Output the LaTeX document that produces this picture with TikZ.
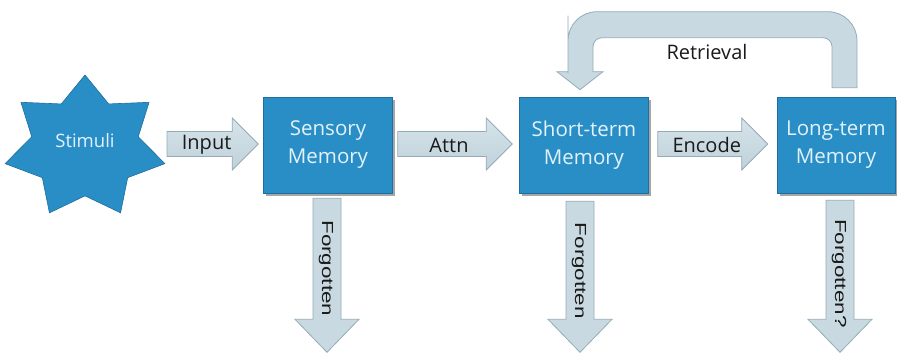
\documentclass[tikz,border=0pt]{standalone}
\usepackage{fontspec}
\setmainfont{Open Sans}
\newfontfamily\vfont{Liberation Sans}
\usetikzlibrary{shapes.geometric,shadows,calc}
\definecolor{boxblue}{HTML}{2A8EC6}
\definecolor{boxedge}{HTML}{1C6F9E}
\definecolor{boxtext}{HTML}{E2F2FA}
\definecolor{arrfill}{HTML}{C8D9E1}
\definecolor{arrtop}{HTML}{D6E4EA}
\definecolor{arrbot}{HTML}{BFD1DA}
\definecolor{arrline}{HTML}{95ABB7}
\definecolor{labtext}{HTML}{1A1A1A}
\tikzset{
  memorybox/.style={rectangle, fill=boxblue, draw=boxedge, line width=0.6pt,
    minimum width=129pt, minimum height=96pt, inner sep=0pt, text=boxtext,
    align=center, font=\fontsize{20.5}{28}\selectfont,
    drop shadow={shadow xshift=2.5pt, shadow yshift=-2.5pt, opacity=0.35, fill=black}},
  stimstar/.style={star, star points=7, star point ratio=1.5, minimum size=145pt,
    inner sep=0pt, fill=boxblue, draw=boxedge, line width=0.6pt, xscale=1.13},
  stimtext/.style={text=boxtext, font=\fontsize{18.5}{22}\selectfont, inner sep=0pt},
  blockarrow/.style={fill=arrfill, draw=arrline, line width=0.8pt},
  arrlabel/.style={text=labtext, font=\fontsize{20}{22}\selectfont, inner sep=0pt},
  vlabel/.style={text=labtext, font=\vfont\fontsize{16}{18}\selectfont, inner sep=0pt, rotate=-90}
}
\newcommand\hblock[4]{%
  \draw[blockarrow, top color=arrtop, bottom color=arrbot] ($(#1)+(0,-12.5)$) -- ($(#2)+(-26,-12.5)$) -- ($(#2)+(-26,-26)$) -- (#2)
    -- ($(#2)+(-26,26)$) -- ($(#2)+(-26,12.5)$) -- ($(#1)+(0,12.5)$) -- cycle;
  \node[arrlabel] (#4) at ($(#1)!0.5!(#2)+(-6,1)$) {#3};
}
\newcommand\vblock[5]{%
  \draw[blockarrow] ($(#1)+(-14,0)$) -- ($(#2)+(-14,-33)$) -- ($(#2)+(-32,-33)$) -- (#2)
    -- ($(#2)+(32,-33)$) -- ($(#2)+(14,-33)$) -- ($(#1)+(14,0)$) -- cycle;
  \node[vlabel] (#4) at ($(#1)!0.5!(#2)+(-1,#5)$) {\scalebox{1.4}[1]{#3}};
}
\begin{document}
\begin{tikzpicture}[x=1pt,y=-1pt]
\useasboundingbox (0,0) rectangle (897,353);

% nodes
\node[stimstar] (stimshape) at (85,147.5) {};
\node[stimtext] (stim) at (85,141) {Stimuli};
\node[memorybox] (sens) at (328,145) {Sensory\\Memory};
\node[memorybox] (stm) at (584,145) {Short-term\\Memory};
\node[memorybox, minimum width=118pt] (ltm) at (836,145) {Long-term\\Memory};

% horizontal block arrows
\coordinate (inA) at ($(stim.center)+(82,3)$);
\coordinate (inB) at ($(sens.west)+(-5,-1)$);
\coordinate (atA) at ($(sens.east)+(5,-1)$);
\coordinate (atB) at ($(stm.west)+(-7,-1)$);
\coordinate (enA) at ($(stm.east)+(9,-1)$);
\coordinate (enB) at ($(ltm.west)+(-9,-1)$);
\hblock{inA}{inB}{Input}{lin}
\hblock{atA}{atB}{Attn}{lat}
\hblock{enA}{enB}{Encode}{len}

% downward block arrows
\coordinate (sdA) at ($(sens.south)+(-1,5)$);
\coordinate (sdB) at ($(sens.south)+(-1,159)$);
\coordinate (tdA) at ($(stm.south)+(-4,8)$);
\coordinate (tdB) at ($(stm.south)+(-4,159)$);
\coordinate (ldA) at ($(ltm.south)+(4,7)$);
\coordinate (ldB) at ($(ltm.south)+(4,159)$);
\vblock{sdA}{sdB}{Forgotten}{fs}{-7}
\vblock{tdA}{tdB}{Forgotten}{ft}{-6}
\vblock{ldA}{ldB}{Forgotten?}{fl}{-3}

% retrieval arrow from long-term back to short-term
\coordinate (rA) at ($(ltm.north)+(21,-9)$);
\coordinate (rB) at ($(ltm.north)+(-4,-9)$);
\coordinate (rTip) at ($(stm.north)+(-4,-7)$);
\draw[blockarrow]
  (rA) -- ($(rA)+(0,-30)$) [rounded corners=29pt] -- ($(rA)+(0,-76)$)
  -- ($(rTip)+(-12,-78)$) -- ($(rTip)+(-12,-45)$) [sharp corners]
  -- ($(rTip)+(-12,-18)$) -- ($(rTip)+(-23,-18)$) -- (rTip)
  -- ($(rTip)+(23,-18)$) -- ($(rTip)+(13,-18)$) -- ($(rTip)+(13,-35)$) [rounded corners=9pt]
  -- ($(rTip)+(13,-52)$) -- ($(rB)+(0,-50)$) -- ($(rB)+(0,-25)$) [sharp corners]
  -- (rB) -- cycle;
\node[arrlabel] (lret) at (707,52) {Retrieval};
\end{tikzpicture}
\end{document}
